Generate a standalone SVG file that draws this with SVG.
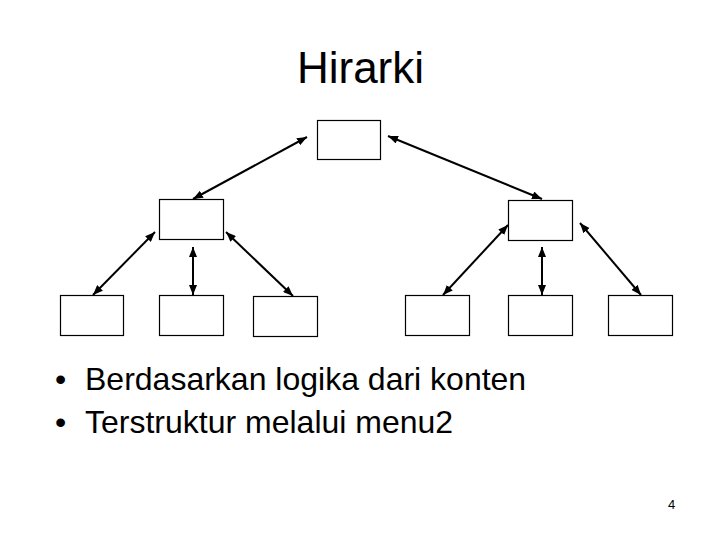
<svg xmlns="http://www.w3.org/2000/svg" width="720" height="540" viewBox="0 0 720 540">
<style>
.box{fill:#fff;stroke:#000;stroke-width:1.2}
.con{stroke:#000;stroke-width:2;fill:none;marker-start:url(#ah);marker-end:url(#ah)}
.t{font-family:"Liberation Sans",Arial,sans-serif;fill:#000}
</style>
<defs>
<marker id="ah" markerUnits="userSpaceOnUse" markerWidth="10" markerHeight="8" refX="10" refY="4" orient="auto-start-reverse" viewBox="0 0 10 8">
<path d="M0,0 L10,4 L0,8 z" fill="#000"/>
</marker>
</defs>
<rect width="720" height="540" fill="#fff"/>
<text class="t" x="360.5" y="82.5" font-size="44" text-anchor="middle">Hirarki</text>
<g id="connectors">
<line class="con" x1="307" y1="137" x2="193" y2="199"/>
<line class="con" x1="388" y1="136" x2="542" y2="199"/>
<line class="con" x1="155" y1="232" x2="93" y2="295"/>
<line class="con" x1="193" y1="247" x2="193" y2="295"/>
<line class="con" x1="226" y1="232" x2="293" y2="296"/>
<line class="con" x1="508" y1="225" x2="443" y2="295"/>
<line class="con" x1="542" y1="247" x2="542" y2="295"/>
<line class="con" x1="580" y1="223" x2="641" y2="295"/>
</g>
<g id="root"><rect class="box" x="317.5" y="120.5" width="63" height="39"/></g>
<g id="mid-left"><rect class="box" x="159.5" y="199.5" width="64" height="40"/></g>
<g id="mid-right"><rect class="box" x="508.5" y="200.5" width="64" height="40"/></g>
<g id="leaf-1"><rect class="box" x="60.5" y="295.5" width="63" height="40"/></g>
<g id="leaf-2"><rect class="box" x="159.5" y="295.5" width="64" height="40"/></g>
<g id="leaf-3"><rect class="box" x="253.5" y="296.5" width="64" height="40"/></g>
<g id="leaf-4"><rect class="box" x="405.5" y="295.5" width="64" height="40"/></g>
<g id="leaf-5"><rect class="box" x="508.5" y="295.5" width="64" height="40"/></g>
<g id="leaf-6"><rect class="box" x="608.5" y="295.5" width="64" height="40"/></g>
<g id="bullets" class="t" font-size="32">
<text class="t" x="55" y="390">•</text>
<text class="t" x="85" y="390">Berdasarkan logika dari konten</text>
<text class="t" x="55" y="433">•</text>
<text class="t" x="85" y="433">Terstruktur melalui menu2</text>
</g>
<text class="t" x="668" y="509" font-size="13">4</text>
</svg>
